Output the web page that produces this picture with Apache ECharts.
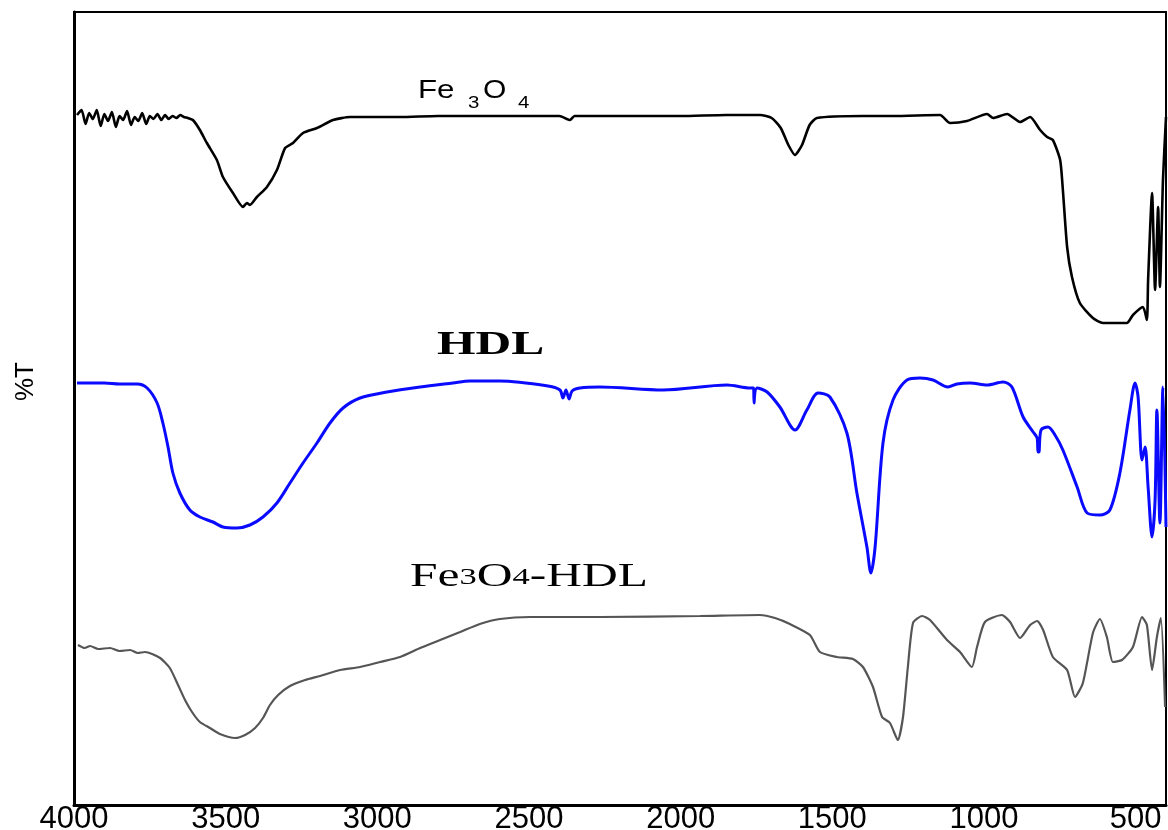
<!DOCTYPE html>
<html>
<head>
<meta charset="utf-8">
<script src="https://cdn.jsdelivr.net/npm/echarts@6/dist/echarts.min.js"></script>
<style>
html,body{margin:0;padding:0;background:#fff;}
#chart{width:1168px;height:830px;}
</style>
</head>
<body>
<div id="chart"></div>
<script>
// x tick labels (wavenumber, cm-1)
const xTickLabels = [4000, 3500, 3000, 2500, 2000, 1500, 1000, 500];

// Fe3O4 spectrum (wavenumber, %T offset units)
const fe3o4Wn = [3990,3975,3962,3950,3938,3925,3912,3900,3888,3875,3862,3850,3838,3825,3812,3800,3788,3775,3762,3750,3738,3725,3712,3700,3688,3675,3662,3650,3638,3625,
  3608,3585,3562,3529,3509,3476,3443,3430,3420,3397,3364,3331,3304,3278,3245,3199,3146,3090,2925,2800,2600,2400,2365,2350,2200,2000,1850,1738,1700,1670,1645,1623,1600,1575,1551,1400,1300,1145,1112,1056,990,970,924,881,848,815,792,773,749,740,726,710,684,641,608,529,509,476,463,459,446,436,426,420,410,400];
const fe3o4T = [690,695,681,692,686,695,679,691,684,693,678,689,685,694,680,688,684,692,681,689,686,691,685,690,686,689,687,690,688,687,
  685,675,662,645,628,612,598,602,600,608,618,635,657,662,672,677,685,688,688,689,689,689,685,689,689,689,690,690,687,677,660,650,660,680,687,689,689,690,682,684,691,687,691,683,688,675,668,665,645,615,558,528,502,487,482,482,490,498,485,525,612,515,598,518,625,688];

// HDL spectrum
const hdlWn = [3990,3900,3850,3792,3759,3726,3707,3690,3674,3651,3618,3585,3542,3509,3463,3420,3377,3331,3288,3245,3199,3156,3113,3057,2968,2859,2751,2695,2596,2437,2398,2388,2378,2368,2358,2332,2266,2058,1847,1771,1760,1758,1756,1748,1715,1673,1623,1584,1547,1508,1452,1419,1386,1373,1359,1333,1300,1254,1211,1168,1119,1089,1046,990,937,908,871,838,825,822,819,812,789,766,740,693,660,618,585,552,519,502,492,479,469,459,446,436,430,420,410,400];
const hdlT = [422,422,421,421,417,402,382,358,332,312,295,288,283,278,277,280,288,302,322,342,362,382,397,407,413,418,422,424,424,419,415,407,415,406,414,417,418,415,420,417,417,402,402,417,413,398,375,395,412,408,372,312,258,232,258,362,405,425,427,425,418,421,422,420,423,418,388,373,367,353,353,375,378,370,355,318,292,290,295,332,395,422,408,345,358,318,268,305,395,282,418,278];

// Fe3O4-HDL spectrum
const fhWn = [3987,3965,3947,3920,3881,3850,3815,3790,3766,3716,3684,3657,3634,3611,3585,3552,3519,3469,3436,3403,3377,3354,3327,3288,3238,3189,3123,3057,2991,2925,2859,2793,2727,2662,2596,2497,2266,1936,1739,1689,1640,1574,1541,1485,1432,1399,1366,1336,1310,1284,1267,1251,1234,1204,1178,1122,1079,1040,1023,997,941,914,881,848,825,805,773,726,700,674,641,618,595,575,545,509,479,463,446,430,417,403];
const fhT = [160,157,159,156,157,154,155,152,153,147,137,120,105,93,83,77,71,67,70,77,87,100,110,119,125,129,135,138,143,148,157,165,173,181,186,188,188,189,190,187,181,170,153,148,146,138,118,88,82,65,88,138,182,189,185,165,153,138,158,183,190,183,167,180,184,175,148,135,108,122,172,186,168,143,145,158,188,180,135,168,187,98];

function pairs(xs, ys){ return xs.map((x,i)=>[x, ys[i]]); }

const SANS = 'Liberation Sans, Arial, sans-serif';
const SERIF = 'Liberation Serif, Times New Roman, serif';

const chart = echarts.init(document.getElementById('chart'), null, {renderer:'canvas'});
chart.setOption({
  animation: false,
  backgroundColor: '#fff',
  grid: {left: 74, right: 2, top: 12, bottom: 25, show: true, borderColor: '#000', borderWidth: 2,
         containLabel: false, outerBoundsMode: 'none'},
  xAxis: {
    type: 'value', inverse: true, min: 400, max: 4000, interval: 100,
    axisLine: {show: true, onZero: false, lineStyle: {color: '#000', width: 3}},
    axisTick: {show: false},
    splitLine: {show: false},
    axisLabel: {
      margin: -1, fontSize: 31, color: '#000', fontFamily: SANS,
      showMinLabel: true, showMaxLabel: true,
      formatter: v => xTickLabels.indexOf(Math.round(v)) >= 0 ? String(Math.round(v)) : ''
    }
  },
  yAxis: {
    type: 'value', min: 0, max: 793,
    axisLine: {show: true, lineStyle: {color: '#000', width: 3}},
    axisTick: {show: false}, axisLabel: {show: false}, splitLine: {show: false}
  },
  series: [
    {type: 'line', name: 'Fe3O4', data: pairs(fe3o4Wn, fe3o4T), showSymbol: false, smooth: 0.2,
     lineStyle: {color: '#000', width: 2.6}},
    {type: 'line', name: 'HDL', data: pairs(hdlWn, hdlT), showSymbol: false, smooth: 0.3,
     lineStyle: {color: '#0a0aff', width: 3}},
    {type: 'line', name: 'Fe3O4-HDL', data: pairs(fhWn, fhT), showSymbol: false, smooth: 0.2,
     lineStyle: {color: '#555', width: 2.2}}
  ],
  graphic: [
    {type: 'text', x: 13, y: 401, rotation: Math.PI/2,
     style: {text: '%T', fontSize: 26, fontFamily: SANS, fill: '#000'}},
    {type: 'group', x: 418, y: 79, children: [
      {type: 'text', x: 0, y: 0, scaleX: 1.25, style: {text: 'Fe', fontSize: 25, fontFamily: SANS, fill: '#000'}},
      {type: 'text', x: 50, y: 16, scaleX: 1.2, style: {text: '3', fontSize: 17, fontFamily: SANS, fill: '#000'}},
      {type: 'text', x: 65, y: 0, scaleX: 1.2, style: {text: 'O', fontSize: 25, fontFamily: SANS, fill: '#000'}},
      {type: 'text', x: 100, y: 16, scaleX: 1.2, style: {text: '4', fontSize: 17, fontFamily: SANS, fill: '#000'}}
    ]},
    {type: 'text', x: 437, y: 329, scaleX: 1.5,
     style: {text: 'HDL', fontSize: 33, fontWeight: 'bold', fontFamily: SERIF, fill: '#000'}},
    {type: 'text', x: 410, y: 561, scaleX: 1.5,
     style: {text: '{m|Fe}{s|3}{m|O}{s|4}{m|-HDL}', fill: '#000',
       rich: {m: {fontSize: 33, fontFamily: SERIF},
              s: {fontSize: 23, fontFamily: SERIF}}}}
  ]
});
</script>
</body>
</html>
